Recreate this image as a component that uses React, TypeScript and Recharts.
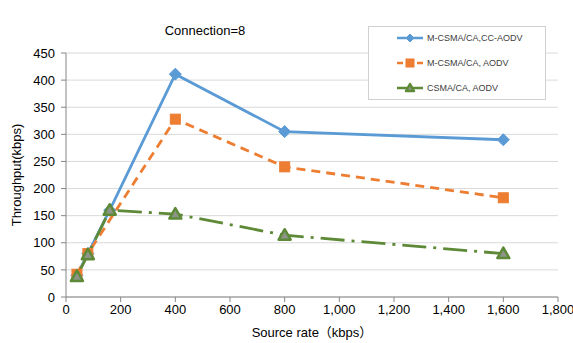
import React from "react";
import {
  LineChart,
  Line,
  XAxis,
  YAxis,
  CartesianGrid,
  Customized,
} from "recharts";

const sourceRate = [40, 80, 160, 400, 800, 1600];
const ccAodv = [40, 80, 160, 411, 305, 290];
const mAodv = [42, 80, null, 328, 240, 183];
const csmaAodv = [38, 78, 160, 153, 114, 80];

const xTicks = [0, 200, 400, 600, 800, 1000, 1200, 1400, 1600, 1800];
const yTicks = [0, 50, 100, 150, 200, 250, 300, 350, 400, 450];

const seriesNames = ["M-CSMA/CA,CC-AODV", "M-CSMA/CA, AODV", "CSMA/CA, AODV"];

const BLUE = "#5B9BD5";
const ORANGE = "#ED7D31";
const GREEN = "#5E8A38";
const FONT = "'Liberation Sans', Arial, 'Noto Sans CJK JP', sans-serif";

const data = sourceRate.map((x, i) => ({
  x,
  cc: ccAodv[i],
  m: mAodv[i],
  csma: csmaAodv[i],
}));

function Diamond({ cx, cy, size = 6 }: { cx: number; cy: number; size?: number }) {
  return (
    <path
      d={`M${cx},${cy - size}L${cx + size},${cy}L${cx},${cy + size}L${cx - size},${cy}Z`}
      fill={BLUE}
      stroke={BLUE}
    />
  );
}

function Square({ cx, cy, size = 5 }: { cx: number; cy: number; size?: number }) {
  return (
    <rect x={cx - size} y={cy - size} width={size * 2} height={size * 2} fill={ORANGE} stroke={ORANGE} />
  );
}

function Triangle({ cx, cy, size = 6 }: { cx: number; cy: number; size?: number }) {
  return (
    <path
      d={`M${cx},${cy - size}L${cx + size},${cy + size * 0.75}L${cx - size},${cy + size * 0.75}Z`}
      fill="#8E9488"
      stroke={GREEN}
      strokeWidth={2.5}
      strokeLinejoin="round"
    />
  );
}

const dotFn = (Shape: any) => (props: any) => {
  const { cx, cy, index } = props;
  if (cx == null || cy == null || props.value == null) return <g key={`d-${index}`} />;
  return (
    <g key={`d-${index}`}>
      <Shape cx={cx} cy={cy} />
    </g>
  );
};

function LegendBox() {
  const rows = [
    { name: seriesNames[0], color: BLUE, dash: undefined, Shape: Diamond },
    { name: seriesNames[1], color: ORANGE, dash: "6 4", Shape: Square },
    { name: seriesNames[2], color: GREEN, dash: undefined, Shape: Triangle },
  ];
  return (
    <svg width={178} height={74} style={{ display: "block" }}>
      <rect x={0.5} y={0.5} width={177} height={73} fill="#fff" stroke="#d0d0d0" />
      {rows.map((r, i) => {
        const y = 12 + i * 25;
        return (
          <g key={r.name}>
            <line x1={29} x2={55} y1={y} y2={y} stroke={r.color} strokeWidth={2.5} strokeDasharray={r.dash} />
            <r.Shape cx={42} cy={y} size={4} />
            <text x={59} y={y + 3} fontSize={9} fontFamily={FONT} fill="#404040">
              {r.name}
            </text>
          </g>
        );
      })}
    </svg>
  );
}

export default function App() {
  return (
    <div
      style={{
        position: "absolute",
        left: 0,
        top: 0,
        width: 573,
        height: 343,
        background: "#fff",
        fontFamily: FONT,
      }}
    >
      <LineChart width={573} height={343} data={data} margin={{ top: 53, right: 15, bottom: 16, left: 0 }}>
        <CartesianGrid vertical={false} stroke="#d9d9d9" />
        <XAxis
          dataKey="x"
          type="number"
          domain={[0, 1800]}
          ticks={xTicks}
          tickFormatter={(v: number) => v.toLocaleString("en-US")}
          stroke="#868686"
          tick={{ fill: "#000", fontSize: 13, fontFamily: FONT }}
          tickSize={5}
          tickMargin={3}
          interval={0}
          height={30}
          label={{
            value: "Source rate（kbps）",
            position: "insideBottom",
            offset: -10,
            fill: "#000",
            fontSize: 13,
            fontFamily: FONT,
          }}
        />
        <YAxis
          type="number"
          domain={[0, 450]}
          ticks={yTicks}
          width={66}
          stroke="#868686"
          tick={{ fill: "#000", fontSize: 13, fontFamily: FONT }}
          tickSize={5}
          tickMargin={6}
          interval={0}
          label={{
            value: "Throughput(kbps)",
            angle: -90,
            position: "insideLeft",
            offset: 16,
            fill: "#000",
            fontSize: 13,
            fontFamily: FONT,
            style: { textAnchor: "middle" },
          }}
        />
        <Line
          dataKey="cc"
          name={seriesNames[0]}
          stroke={BLUE}
          strokeWidth={2.8}
          dot={dotFn(Diamond)}
          activeDot={false}
          isAnimationActive={false}
        />
        <Line
          dataKey="m"
          name={seriesNames[1]}
          stroke={ORANGE}
          strokeWidth={2.8}
          strokeDasharray="9 6"
          connectNulls
          dot={dotFn(Square)}
          activeDot={false}
          isAnimationActive={false}
        />
        <Line
          dataKey="csma"
          name={seriesNames[2]}
          stroke={GREEN}
          strokeWidth={2.8}
          strokeDasharray="24 7 3 7"
          dot={dotFn(Triangle)}
          activeDot={false}
          isAnimationActive={false}
        />
        <Customized
          component={() => (
            <text x={205} y={35} textAnchor="middle" fontSize={13} fontFamily={FONT} fill="#000">
              Connection=8
            </text>
          )}
        />
      </LineChart>
      <div style={{ position: "absolute", left: 368, top: 26 }}>
        <LegendBox />
      </div>
    </div>
  );
}
